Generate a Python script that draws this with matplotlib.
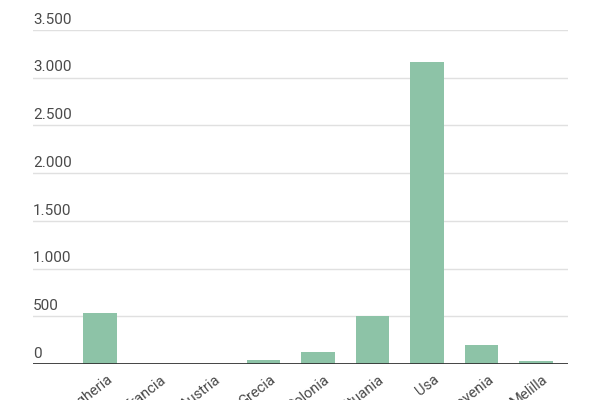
import matplotlib
matplotlib.use("Agg")
import matplotlib.pyplot as plt
from matplotlib.transforms import ScaledTranslation

# Dati
paesi = ["Ungheria", "Francia", "Austria", "Grecia", "Polonia",
         "Lituania", "Usa", "Slovenia", "Melilla"]
valori = [530, 0, 0, 40, 125, 505, 3165, 200, 30]
y_ticks = [0, 500, 1000, 1500, 2000, 2500, 3000, 3500]
y_labels = ["0", "500", "1.000", "1.500", "2.000", "2.500", "3.000", "3.500"]

BAR_COLOR = "#8DC3A7"
TEXT_COLOR = "#4A4A4A"

plt.rcParams["font.family"] = ["Roboto", "DejaVu Sans"]

fig = plt.figure(figsize=(6, 4), dpi=100, facecolor="white")
ax = fig.add_axes([0.055, 0.09, 0.892, 0.835])

x = list(range(len(paesi)))
ax.bar(x, valori, width=0.62, color=BAR_COLOR, zorder=3)

ax.set_ylim(0, 3500)
ax.set_xlim(-1.23, 8.59)

# griglia orizzontale
for t in y_ticks[1:]:
    ax.axhline(t, color="#E0E0E0", lw=1, zorder=1)
ax.axhline(0, color="#333333", lw=2, zorder=4)

ax.set_yticks([])
for t, lab in zip(y_ticks, y_labels):
    ax.text(0.0, t + 35, lab, transform=ax.get_yaxis_transform(),
            ha="left", va="bottom", fontsize=11, color=TEXT_COLOR, clip_on=False)

ax.set_xticks(x)
ax.set_xticklabels(paesi, rotation=38, ha="right", rotation_mode="anchor",
                   fontsize=10.5, color=TEXT_COLOR)
ax.tick_params(axis="x", length=0, pad=6)
shift = ScaledTranslation(6 / 100, 0, fig.dpi_scale_trans)
for lab in ax.get_xticklabels():
    lab.set_transform(lab.get_transform() + shift)

for s in ax.spines.values():
    s.set_visible(False)

fig.savefig("out.png", dpi=100, facecolor="white")
plt.close(fig)
